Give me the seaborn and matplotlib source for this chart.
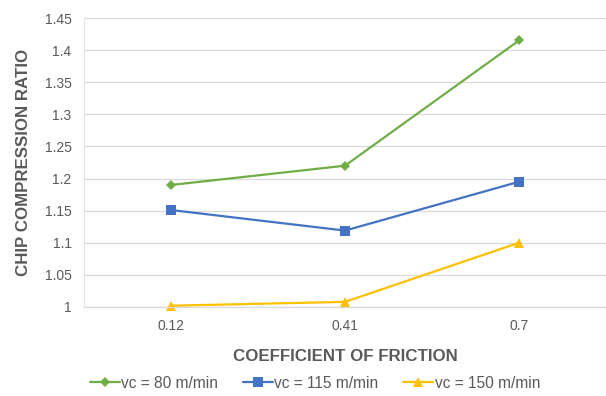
import matplotlib
matplotlib.use("Agg")
import matplotlib.pyplot as plt
from matplotlib.lines import Line2D
import seaborn as sns
import pandas as pd

friction = ["0.12", "0.41", "0.7"]
series_names = ["vc = 80 m/min", "vc = 115 m/min", "vc = 150 m/min"]
vc80 = [1.19, 1.22, 1.415]
vc115 = [1.151, 1.119, 1.195]
vc150 = [1.002, 1.008, 1.1]
colors = ["#70AD47", "#4472C4", "#FFC000"]
markers = ["D", "s", "^"]
msizes = [5, 7, 7]

df = pd.DataFrame({
    "mu": friction * 3,
    "ratio": vc80 + vc115 + vc150,
    "series": [s for s in series_names for _ in friction],
})

sns.set_theme(style="white")
plt.rcParams["font.family"] = ["Liberation Sans", "DejaVu Sans"]

fig = plt.figure(figsize=(6.06, 3.96), dpi=100)
ax = fig.add_axes([84 / 606, 1 - 307 / 396, 1 - 84 / 606, 289 / 396])

for name, col, mk, ms in zip(series_names, colors, markers, msizes):
    sub = df[df["series"] == name]
    sns.lineplot(data=sub, x="mu", y="ratio", color=col, marker=mk,
                 markersize=ms, markeredgewidth=0, linewidth=1.6,
                 ax=ax, legend=False, sort=False, clip_on=False)

ax.set_xlim(-0.5, 2.5)
ax.set_ylim(1.0, 1.45)
yt = [1, 1.05, 1.1, 1.15, 1.2, 1.25, 1.3, 1.35, 1.4, 1.45]
ax.set_yticks(yt)
ax.set_yticklabels([f"{v:g}" for v in yt])
ax.yaxis.grid(True, color="#D9D9D9", linewidth=0.9)
ax.set_axisbelow(True)
for s in ["top", "right"]:
    ax.spines[s].set_visible(False)
ax.spines["left"].set_color("#E4E4E4")
ax.spines["bottom"].set_color("#D9D9D9")
ax.spines["left"].set_linewidth(0.8)
ax.spines["bottom"].set_linewidth(0.9)
ax.tick_params(axis="both", length=0, labelsize=10, colors="#595959")
ax.tick_params(axis="x", pad=9)
ax.tick_params(axis="y", pad=9)

ax.set_xlabel("COEFFICIENT OF FRICTION", fontsize=12.2, fontweight="bold",
              color="#595959", labelpad=11)
ax.set_ylabel("CHIP COMPRESSION RATIO", fontsize=12.2, fontweight="bold",
              color="#595959", labelpad=10)

handles = [Line2D([0], [0], color=c, marker=m, markersize=s, markeredgewidth=0,
                  linewidth=1.6) for c, m, s in zip(colors, markers, msizes)]
fig.legend(handles, series_names, loc="center", bbox_to_anchor=(0.52, 1 - 383 / 396),
           ncol=3, frameon=False, fontsize=11.2, labelcolor="#595959",
           handlelength=1.9, handletextpad=0.1, columnspacing=1.6)

fig.savefig("out.png", dpi=100)
